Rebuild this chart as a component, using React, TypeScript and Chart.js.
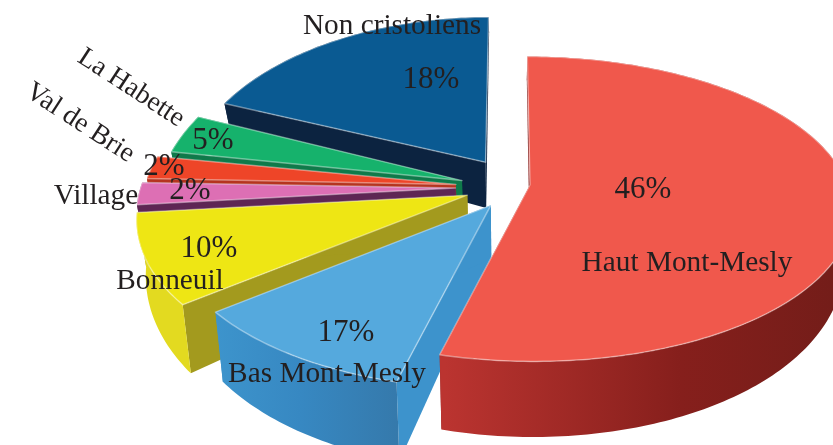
import React, { useEffect, useRef } from "react";
import { Chart, registerables } from "chart.js";

Chart.register(...registerables);

const sectors = ["Haut Mont-Mesly", "Bas Mont-Mesly", "Bonneuil", "Village", "Val de Brie", "La Habette", "Non cristoliens"];
const shares = [46, 17, 10, 2, 2, 5, 18];

// styling of the extruded pie
const topColors = ["#f0584c", "#55a9dd", "#eee614", "#dd6fb4", "#ee4528", "#16b26c", "#0a5a92"];
const faceColors = ["#8a2320", "#3d93cc", "#a39a1e", "#5e2654", "#b5341f", "#0f7a4a", "#0c2340"];
const wallStops = [
  ["#bb3430", "#861f1c", "#741d19"],
  ["#3d94cc", "#3788c2", "#3579ab"],
  ["#e3da20", "#e3da20", "#e3da20"],
  ["#5e2654", "#5e2654", "#5e2654"],
  ["#b5341f", "#b5341f", "#b5341f"],
  ["#0f7a4a", "#0f7a4a", "#0f7a4a"],
  ["#0c2340", "#0c2340", "#0c2340"],
];
const wallGradientX = [[445, 680, 833], [215, 300, 400], [130, 160, 190], [130, 200, 300], [130, 200, 300], [130, 200, 300], [200, 300, 400]];
const explode = [0.07, 0.145, 0.155, 0.185, 0.185, 0.17, 0.2];
const explodeTurn = [-21, -7, 0, 0, 0, 0, 9];
const widthScale = [0.95, 0.94, 0.97, 0.94, 0.93, 0.91, 0.907];
const heightScale = [0.945, 0.98, 1.02, 1, 1.1, 1.15, 1.09];
const perspective = [0.169, 0.13, 0.13, 0.13, 0.13, 0.13, 0.13];
const paintOrder = [6, 5, 4, 3, 2, 1, 0];

// the printed picture's perspective bends the pie's angles: [pie degrees, drawn degrees]
const angleBend = [[0, 0], [165.6, 194.5], [226.8, 232], [262.8, 264], [270, 272], [277.2, 279.5], [295.2, 292], [360, 360]];

const view = { cx: 510, cy: 187, rx: 335, ry: 158, depth: 50, depthGrow: 0.55, shrink: 0.025 };

// text placement: [x, y, rotation in degrees]
const nameSpots = [[687, 263.5, 0], [327, 374.5, 0], [170, 281.5, 0], [96, 196.5, 0], [80, 123, 33], [131, 88, 33], [392, 26.5, 0]];
const shareSpots = [[643, 189.5], [346, 332.5], [209, 248.5], [190, 190.5], [164, 166.5], [213, 140.5], [431, 79.5]];

const NAME_FONT = '29.3px "Liberation Serif"';
const SLANTED_FONT = '27.5px "Liberation Serif"';
const SHARE_FONT = '31px "Liberation Serif"';
const INK = "#231f20";

function bend(deg: number) {
  for (let i = 1; i < angleBend.length; i++) {
    const [a0, b0] = angleBend[i - 1];
    const [a1, b1] = angleBend[i];
    if (deg <= a1) return b0 + ((deg - a0) / (a1 - a0)) * (b1 - b0);
  }
  return deg;
}

function project(u: number, v: number, lower: boolean, persp: number) {
  const den = 1 - persp * v;
  let x = view.cx + (view.rx * u) / den;
  let y = view.cy + (view.ry * v) / den;
  if (lower) {
    x = view.cx + (x - view.cx) * (1 - view.shrink);
    y += view.depth * (1 + view.depthGrow * v);
  }
  return [x, y];
}

function tracePoly(ctx: CanvasRenderingContext2D, pts: number[][]) {
  ctx.beginPath();
  pts.forEach(([x, y], i) => (i ? ctx.lineTo(x, y) : ctx.moveTo(x, y)));
  ctx.closePath();
}

const pieIn3D = {
  id: "pieIn3D",
  beforeDatasetsDraw(chart: any) {
    const ctx: CanvasRenderingContext2D = chart.ctx;
    const arcs = chart.getDatasetMeta(0).data;
    for (const i of paintOrder) {
      const arc = arcs[i];
      const p = arc.getProps(["startAngle", "endAngle", "outerRadius"], true);
      const d0 = bend(((p.startAngle + Math.PI / 2) * 180) / Math.PI);
      const d1 = bend(((p.endAngle + Math.PI / 2) * 180) / Math.PI);
      const toRad = (d: number) => ((d - 90) * Math.PI) / 180;
      const mid = toRad((d0 + d1) / 2 + explodeTurn[i]);
      const off = arc.options.offset / p.outerRadius;
      const ou = off * Math.cos(mid);
      const ov = off * Math.sin(mid);
      const rim: number[][] = [];
      const steps = Math.max(2, Math.ceil(d1 - d0));
      for (let s = 0; s <= steps; s++) {
        const t = toRad(d0 + ((d1 - d0) * s) / steps);
        rim.push([ou + widthScale[i] * Math.cos(t), ov + heightScale[i] * Math.sin(t)]);
      }
      const up = (q: number[]) => project(q[0], q[1], false, perspective[i]);
      const down = (q: number[]) => project(q[0], q[1], true, perspective[i]);
      const apex = [ou, ov];

      // radial faces
      ctx.fillStyle = faceColors[i];
      for (const edge of [rim[0], rim[rim.length - 1]]) {
        tracePoly(ctx, [up(apex), up(edge), down(edge), down(apex)]);
        ctx.fill();
      }
      // outer wall
      const [g0, g1, g2] = wallGradientX[i];
      const grad = ctx.createLinearGradient(g0, 0, g2, 0);
      grad.addColorStop(0, wallStops[i][0]);
      grad.addColorStop((g1 - g0) / (g2 - g0), wallStops[i][1]);
      grad.addColorStop(1, wallStops[i][2]);
      ctx.fillStyle = grad;
      tracePoly(ctx, [...rim.map(up), ...rim.slice().reverse().map(down)]);
      ctx.fill();
      // top surface
      tracePoly(ctx, [up(apex), ...rim.map(up)]);
      ctx.fillStyle = arc.options.backgroundColor;
      ctx.fill();
      ctx.strokeStyle = "rgba(255,255,255,0.4)";
      ctx.lineWidth = 1.5;
      ctx.lineJoin = "round";
      ctx.stroke();
    }
    return false;
  },
  afterDraw(chart: any) {
    const ctx: CanvasRenderingContext2D = chart.ctx;
    ctx.save();
    ctx.fillStyle = INK;
    ctx.textAlign = "center";
    ctx.textBaseline = "middle";
    sectors.forEach((name, i) => {
      const [x, y, rot] = nameSpots[i];
      ctx.font = rot ? SLANTED_FONT : NAME_FONT;
      ctx.save();
      ctx.translate(x, y);
      ctx.rotate((rot * Math.PI) / 180);
      ctx.fillText(name, 0, 0);
      ctx.restore();
      const [sx, sy] = shareSpots[i];
      ctx.font = SHARE_FONT;
      ctx.fillText(`${shares[i]}%`, sx, sy);
    });
    ctx.restore();
  },
};

export default function App() {
  const ref = useRef<HTMLCanvasElement>(null);
  useEffect(() => {
    document.body.style.margin = "0";
    document.body.style.background = "#ffffff";
    const chart = new Chart(ref.current as HTMLCanvasElement, {
      type: "pie",
      data: {
        labels: sectors,
        datasets: [
          {
            data: shares,
            backgroundColor: topColors,
            borderWidth: 0,
            offset: (c: any) => explode[c.dataIndex] * 180,
          } as any,
        ],
      },
      options: {
        animation: false,
        responsive: false,
        devicePixelRatio: 1,
        events: [],
        layout: { padding: 0 },
        plugins: { legend: { display: false }, tooltip: { enabled: false } },
      },
      plugins: [pieIn3D as any],
    });
    return () => chart.destroy();
  }, []);
  return (
    <canvas
      ref={ref}
      width={833}
      height={445}
      style={{ position: "fixed", left: 0, top: 0, width: 833, height: 445, filter: "blur(0.4px)" }}
    />
  );
}
